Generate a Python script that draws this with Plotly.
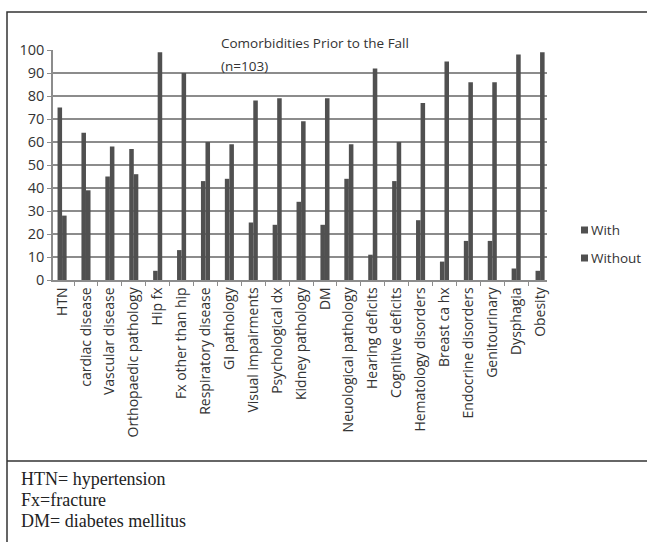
import plotly.graph_objects as go

categories = [
    "HTN", "cardiac disease", "Vascular disease", "Orthopaedic pathology",
    "Hip fx", "Fx other than hip", "Respiratory disease", "GI pathology",
    "Visual impairments", "Psychological dx", "Kidney pathology", "DM",
    "Neuological pathology", "Hearing deficits", "Cognitive deficits",
    "Hematology disorders", "Breast ca hx", "Endocrine disorders",
    "Genitourinary", "Dysphagia", "Obesity",
]
with_values = [75, 64, 45, 57, 4, 13, 43, 44, 25, 24, 34, 24, 44, 11, 43, 26, 8, 17, 17, 5, 4]
without_values = [28, 39, 58, 46, 99, 90, 60, 59, 78, 79, 69, 79, 59, 92, 60, 77, 95, 86, 86, 98, 99]
series_names = ["With", "Without"]
y_ticks = [0, 10, 20, 30, 40, 50, 60, 70, 80, 90, 100]
title_lines = ["Comorbidities Prior to the Fall", "(n=103)"]
footnotes = ["HTN= hypertension", "Fx=fracture", "DM= diabetes mellitus"]

W, H = 647, 542
L, R, T, B = 53, 547, 50, 280  # plot area in pixels

def px(x):
    return (x - L) / (R - L)

def py(y):
    return (B - y) / (B - T)

bar_color = "#505050"
text_color = "#333333"
axis_color = "#8c8c8c"
sans = "Open Sans, Noto Sans, sans-serif"
serif = "Liberation Serif, DejaVu Serif, serif"

fig = go.Figure()
for name, values in zip(series_names, [with_values, without_values]):
    fig.add_trace(go.Bar(x=categories, y=values, name=name,
                         marker=dict(color=bar_color, line=dict(width=0))))

fig.update_layout(
    width=W, height=H,
    margin=dict(l=L, r=W - R, t=T, b=H - B, pad=0, autoexpand=False),
    paper_bgcolor="white", plot_bgcolor="white",
    barmode="group", bargap=0.62, bargroupgap=0,
    showlegend=False,
    font=dict(family=sans, color=text_color),
)

fig.update_xaxes(
    type="category", range=[-0.38, 20.29],
    tickangle=-90, tickfont=dict(family=sans, size=14, color=text_color),
    ticks="outside", tickson="boundaries", ticklen=4, tickcolor=axis_color,
    showline=True, linecolor=axis_color, linewidth=1.5,
    showgrid=False, zeroline=False,
)
fig.update_yaxes(
    range=[0, 100], tickvals=y_ticks,
    tickfont=dict(family=sans, size=14.5, color=text_color),
    ticks="outside", ticklen=4, tickcolor=axis_color,
    showline=True, linecolor=axis_color, linewidth=1.5,
    showgrid=True, gridcolor=axis_color, gridwidth=1.5,
    zeroline=False,
)

# Chart title inside the plot area
for i, line in enumerate(title_lines):
    fig.add_annotation(
        text=line, xref="paper", yref="paper", x=px(219), y=py(43 + 23 * i),
        xanchor="left", yanchor="middle", showarrow=False,
        font=dict(family=sans, size=13.5, color=text_color),
    )

# Legend: small square swatches with series names
for i, name in enumerate(series_names):
    yc = 230 + 28 * i
    fig.add_shape(type="rect", xref="paper", yref="paper",
                  x0=px(581), x1=px(588), y0=py(yc - 3.5), y1=py(yc + 3.5),
                  fillcolor=bar_color, line=dict(width=0))
    fig.add_annotation(
        text=name, xref="paper", yref="paper", x=px(589), y=py(yc),
        xanchor="left", yanchor="middle", showarrow=False,
        font=dict(family=sans, size=13.5, color=text_color),
    )

# Frame around the figure and the footnote separator
frame = dict(color="#333333", width=1.5)
fig.add_shape(type="rect", xref="paper", yref="paper",
              x0=px(7), x1=px(652), y0=py(12), y1=py(548), line=frame)
fig.add_shape(type="line", xref="paper", yref="paper",
              x0=px(7), x1=px(652), y0=py(461), y1=py(461), line=frame)

# Footnotes
for i, note in enumerate(footnotes):
    fig.add_annotation(
        text=note, xref="paper", yref="paper",
        x=px(19), y=py(479 + 21 * i), xanchor="left", yanchor="middle",
        showarrow=False,
        font=dict(family=serif, size=18, color="#222222"),
    )

fig.write_html("out.html")
